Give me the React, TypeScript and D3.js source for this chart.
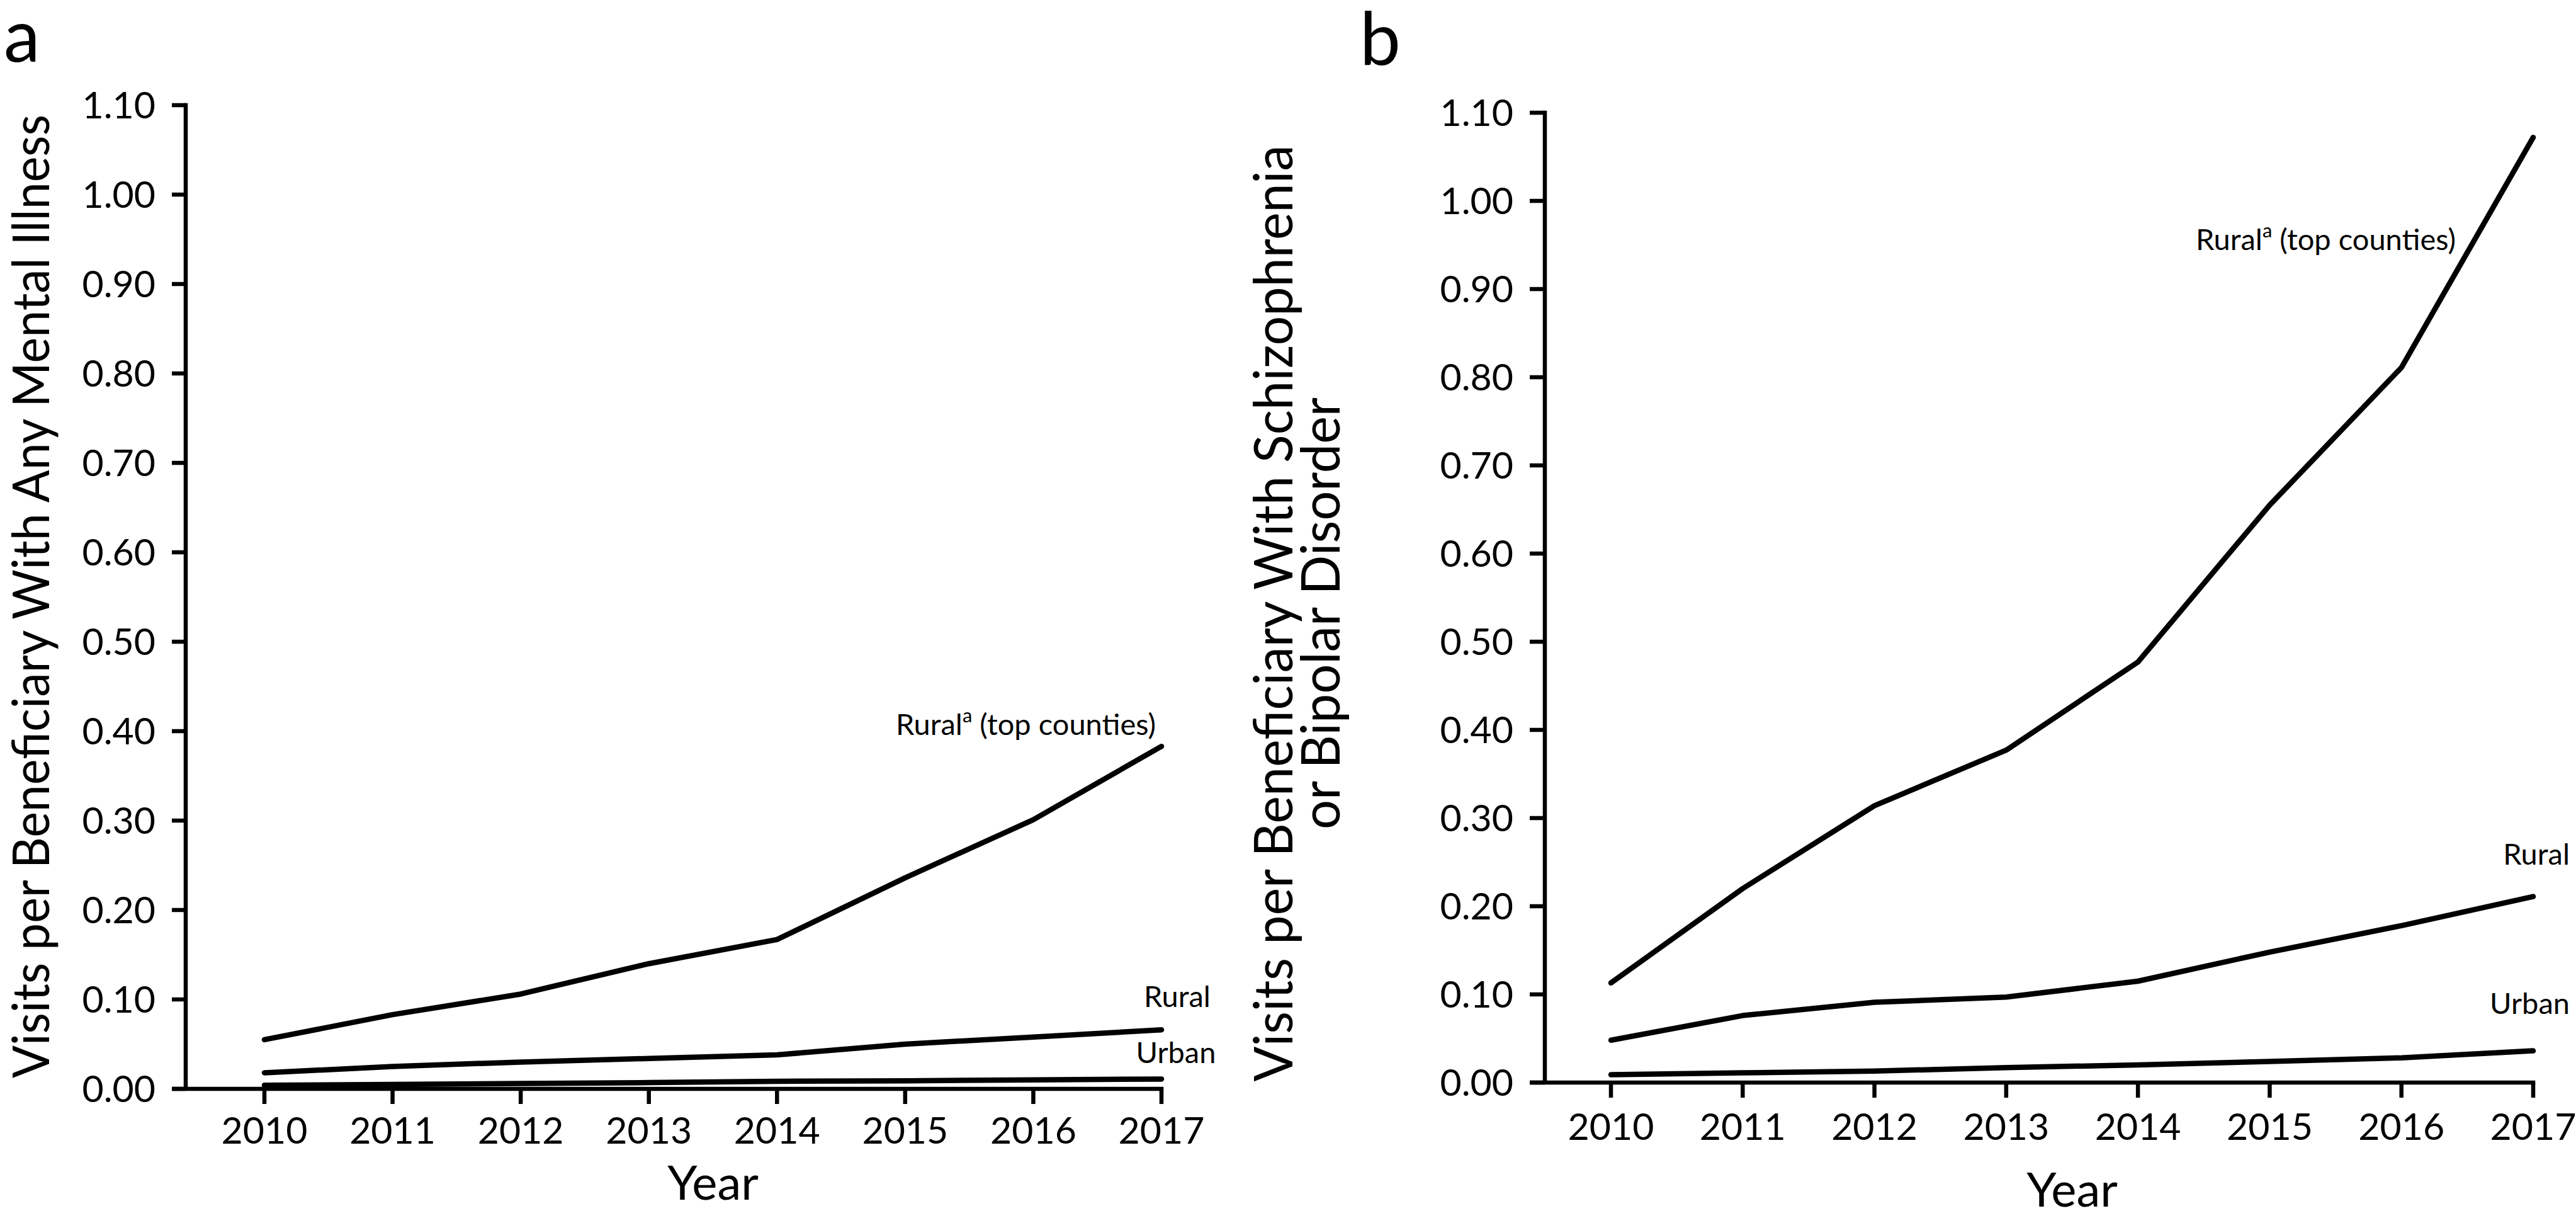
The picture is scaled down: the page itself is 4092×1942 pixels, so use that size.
import React from "react";
import * as d3 from "d3";

// ---------- data ----------
const years = [2010, 2011, 2012, 2013, 2014, 2015, 2016, 2017];
const yearLabels = ["2010", "2011", "2012", "2013", "2014", "2015", "2016", "2017"];
const yTickValues = [0, 0.1, 0.2, 0.3, 0.4, 0.5, 0.6, 0.7, 0.8, 0.9, 1.0, 1.1];
const yTickLabels = ["0.00", "0.10", "0.20", "0.30", "0.40", "0.50", "0.60", "0.70", "0.80", "0.90", "1.00", "1.10"];

// Panel a: any mental illness
const aRuralTop = [0.055, 0.083, 0.106, 0.140, 0.167, 0.236, 0.301, 0.383];
const aRural = [0.018, 0.025, 0.030, 0.034, 0.038, 0.050, 0.058, 0.066];
const aUrban = [0.004, 0.005, 0.006, 0.007, 0.0085, 0.009, 0.010, 0.011];

// Panel b: schizophrenia or bipolar disorder
const bRuralTop = [0.113, 0.220, 0.314, 0.377, 0.477, 0.655, 0.811, 1.072];
const bRural = [0.048, 0.076, 0.091, 0.097, 0.115, 0.148, 0.178, 0.211];
const bUrban = [0.009, 0.011, 0.013, 0.017, 0.020, 0.024, 0.028, 0.036];

const FONT = "Lato, 'Open Sans', sans-serif";

type Panel = {
  letter: string;
  letterX: number;
  letterY: number;
  axisX: number;
  xLeft: number;
  xRight: number;
  yTop: number;
  yBottom: number;
  yTickLen: number;
  xTickLen: number;
  xLabelDy: number;
  yearY: number;
  titleLines: { text: string; x: number; len: number }[];
  titleFont: number;
  titleCenter: number;
  series: number[][];
  topLabel: { x: number; y: number };
  ruralLabel: { x: number; y: number; anchor: string };
  urbanLabel: { x: number; y: number; anchor: string };
};

const panels: Panel[] = [
  {
    letter: "a",
    letterX: 6,
    letterY: 98,
    axisX: 295,
    xLeft: 420,
    xRight: 1845,
    yTop: 167,
    yBottom: 1729,
    yTickLen: 22,
    xTickLen: 24,
    xLabelDy: 87,
    yearY: 1905,
    titleLines: [{ text: "Visits per Beneficiary With Any Mental Illness", x: 78, len: 1530 }],
    titleFont: 82,
    titleCenter: 947,
    series: [aRuralTop, aRural, aUrban],
    topLabel: { x: 1423, y: 1167 },
    ruralLabel: { x: 1870, y: 1599, anchor: "middle" },
    urbanLabel: { x: 1868, y: 1688, anchor: "middle" },
  },
  {
    letter: "b",
    letterX: 2160,
    letterY: 102,
    axisX: 2454,
    xLeft: 2559,
    xRight: 4024,
    yTop: 179,
    yBottom: 1719,
    yTickLen: 24,
    xTickLen: 24,
    xLabelDy: 91,
    yearY: 1916,
    titleLines: [
      { text: "Visits per Beneficiary With Schizophrenia", x: 2053, len: 1487 },
      { text: "or Bipolar Disorder", x: 2128, len: 686 },
    ],
    titleFont: 86,
    titleCenter: 974,
    series: [bRuralTop, bRural, bUrban],
    topLabel: { x: 3488, y: 397 },
    ruralLabel: { x: 4082, y: 1373, anchor: "end" },
    urbanLabel: { x: 4082, y: 1610, anchor: "end" },
  },
];

function PanelView({ p }: { p: Panel }) {
  const x = d3.scaleLinear().domain([years[0], years[years.length - 1]]).range([p.xLeft, p.xRight]);
  const y = d3.scaleLinear().domain([0, 1.1]).range([p.yBottom, p.yTop]);
  const line = d3
    .line<number>()
    .x((_, i) => x(years[i]))
    .y((d) => y(d));
  const axisW = 6.5;
  const tickFont = 59;
  return (
    <g>
      <text x={p.letterX} y={p.letterY} fontSize={116} fontFamily={FONT} fill="#000">
        {p.letter}
      </text>
      {/* y axis */}
      <line x1={p.axisX} x2={p.axisX} y1={y(1.1) - axisW / 2} y2={y(0)} stroke="#000" strokeWidth={axisW} />
      {yTickValues.map((v, i) => (
        <g key={"yt" + i}>
          <line x1={p.axisX - p.yTickLen} x2={p.axisX} y1={y(v)} y2={y(v)} stroke="#000" strokeWidth={axisW} />
          <text
            x={p.axisX - p.yTickLen - 26}
            y={y(v)}
            dy="0.36em"
            textAnchor="end"
            fontSize={tickFont}
            fontFamily={FONT}
            fill="#000"
          >
            {yTickLabels[i]}
          </text>
        </g>
      ))}
      {/* x axis */}
      <line
        x1={p.axisX - p.yTickLen}
        x2={x(years[years.length - 1]) + axisW / 2}
        y1={y(0)}
        y2={y(0)}
        stroke="#000"
        strokeWidth={axisW}
      />
      {years.map((yr, i) => (
        <g key={"xt" + i}>
          <line x1={x(yr)} x2={x(yr)} y1={y(0)} y2={y(0) + p.xTickLen} stroke="#000" strokeWidth={axisW} />
          <text
            x={x(yr)}
            y={y(0) + p.xLabelDy}
            textAnchor="middle"
            fontSize={tickFont}
            fontFamily={FONT}
            fill="#000"
          >
            {yearLabels[i]}
          </text>
        </g>
      ))}
      <text
        x={(p.xLeft + p.xRight) / 2}
        y={p.yearY}
        textAnchor="middle"
        fontSize={76}
        fontFamily={FONT}
        fill="#000"
      >
        Year
      </text>
      {/* y title */}
      {p.titleLines.map((t, i) => (
        <text
          key={"tt" + i}
          transform={`translate(${t.x},${p.titleCenter}) rotate(-90)`}
          textAnchor="middle"
          fontSize={p.titleFont}
          fontFamily={FONT}
          textLength={t.len}
          lengthAdjust="spacingAndGlyphs"
          fill="#000"
        >
          {t.text}
        </text>
      ))}
      {/* series */}
      {p.series.map((s, i) => (
        <path
          key={"s" + i}
          d={line(s) || ""}
          fill="none"
          stroke="#000"
          strokeWidth={8.5}
          strokeLinecap="round"
          strokeLinejoin="round"
        />
      ))}
      <text x={p.topLabel.x} y={p.topLabel.y} fontSize={47} fontFamily={FONT} fill="#000">
        Rural
        <tspan fontSize={31} dy={-20}>
          a
        </tspan>
        <tspan dy={20}> (top counties)</tspan>
      </text>
      <text
        x={p.ruralLabel.x}
        y={p.ruralLabel.y}
        textAnchor={p.ruralLabel.anchor as any}
        fontSize={47}
        fontFamily={FONT}
        fill="#000"
      >
        Rural
      </text>
      <text
        x={p.urbanLabel.x}
        y={p.urbanLabel.y}
        textAnchor={p.urbanLabel.anchor as any}
        fontSize={47}
        fontFamily={FONT}
        fill="#000"
      >
        Urban
      </text>
    </g>
  );
}

export default function App() {
  return (
    <svg
      width={4092}
      height={1942}
      viewBox="0 0 4092 1942"
      style={{ position: "absolute", left: 0, top: 0, background: "#fff" }}
    >
      <rect x={0} y={0} width={4092} height={1942} fill="#fff" />
      {panels.map((p, i) => (
        <PanelView key={i} p={p} />
      ))}
    </svg>
  );
}
